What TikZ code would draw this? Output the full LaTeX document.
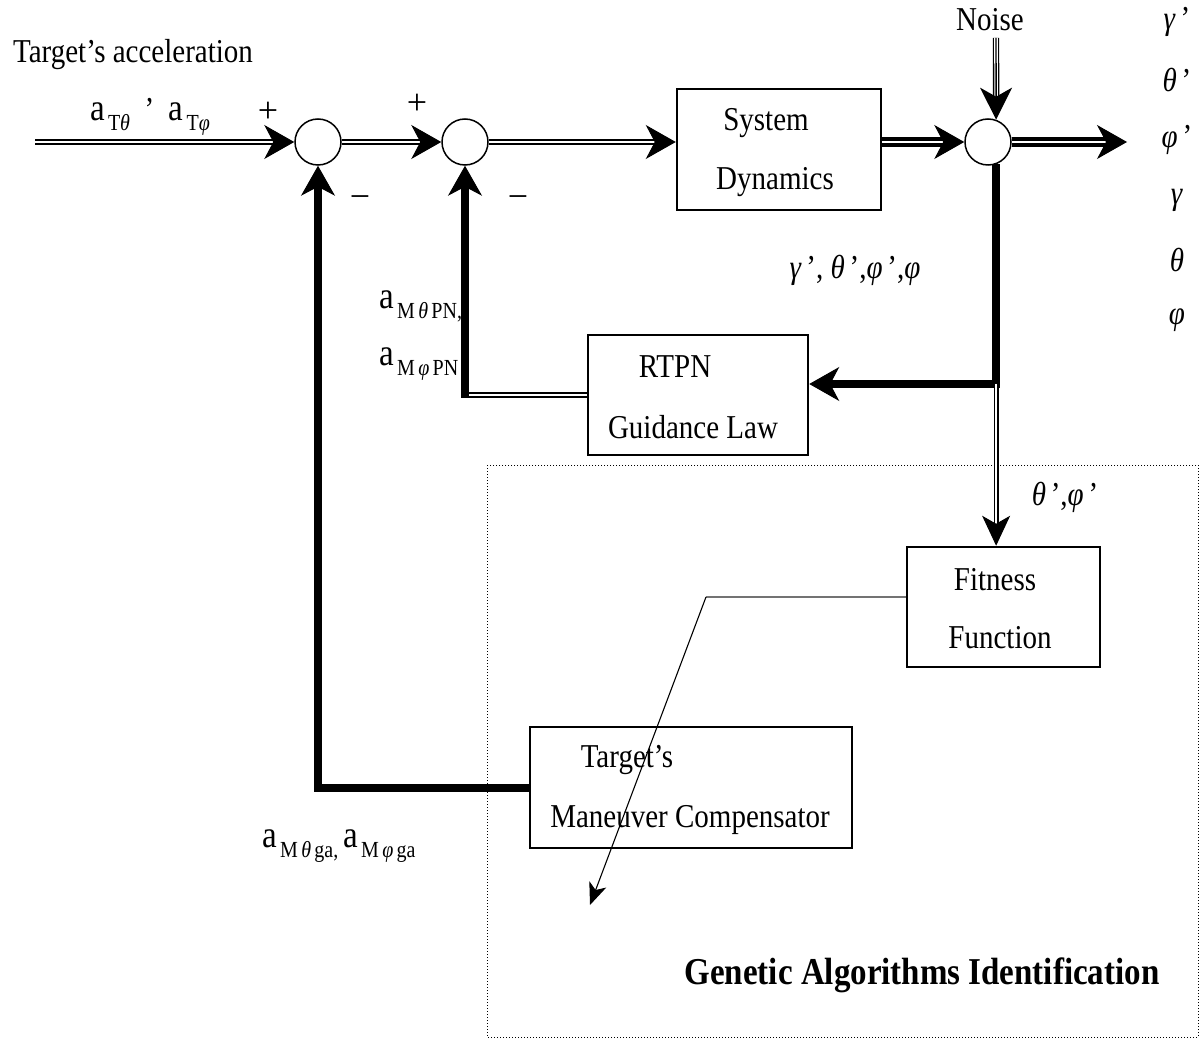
\documentclass[tikz,border=0pt]{standalone}
\usepackage{fontspec}
\usepackage{graphicx}
\setmainfont{Liberation Serif}
\usetikzlibrary{arrows.meta,calc}
\newcommand{\vs}[1]{\scalebox{1}[1.15]{#1}}
\newcommand{\subs}[1]{\raisebox{-0.3em}{\fontsize{20}{20}\selectfont #1}}
\newcommand{\bigA}{{\fontsize{33}{33}\selectfont a}}
\begin{document}
\begin{tikzpicture}[x=1pt,y=1pt,
 every node/.style={font=\fontsize{29}{34}\selectfont, inner sep=0pt},
 sumc/.style={circle,draw,line width=1.5pt,minimum size=46pt,fill=white},
 blk/.style={draw,line width=2.5pt,fill=white},
 tipline/.style={line width=1pt,-{Stealth[length=30pt,width=34pt,inset=9pt]}},
 midtip/.style={line width=1pt,-{Stealth[length=30pt,width=28pt,inset=8pt]}},
 dbl/.style={double,line width=2.2pt,double distance=2.2pt,shorten >=18pt},
 hvdbl/.style={double,line width=4.5pt,double distance=1.5pt,shorten >=18pt},
 tdbl/.style={double,line width=1.4pt,double distance=2pt,shorten >=18pt},
 hvy/.style={line width=8pt,line join=miter,shorten >=18pt},
]
\useasboundingbox (0,0) rectangle (1202,-1040);
% dotted frame
\draw[dotted,line width=1pt] (487,-465) rectangle (1198,-1037);

% blocks
\node[blk,minimum width=204pt,minimum height=121pt] (sd) at (779,-149.5) {};
\node[blk,minimum width=220pt,minimum height=120pt] (rtpn) at (698,-395) {};
\node[blk,minimum width=193pt,minimum height=120pt] (fit) at (1003.5,-607) {};
\node[blk,minimum width=322pt,minimum height=121pt] (tmc) at (691,-787.5) {};

% summing junctions
\node[sumc] (c1) at (318,-142) {};
\node[sumc] (c2) at (465,-142) {};
\node[sumc] (c3) at (988,-142) {};

% forward path
\coordinate (in) at (35,-142);
\draw[dbl] (in) -- (c1.west);
\draw[tipline] ($(c1.west)+(-3,0)$) -- (c1.west);
\draw[dbl] (c1.east) -- (c2.west);
\draw[tipline] ($(c2.west)+(-3,0)$) -- (c2.west);
\coordinate (sdin) at (c2.east -| sd.west);
\draw[dbl] (c2.east) -- (sdin);
\draw[tipline] ($(sdin)+(-3,0)$) -- (sdin);
\draw[hvdbl] (sd.east |- c3.west) -- (c3.west);
\draw[tipline] ($(c3.west)+(-3,0)$) -- (c3.west);
\coordinate (out) at (1127,-142);
\draw[hvdbl] (c3.east) -- (out);
\draw[tipline] ($(out)+(-3,0)$) -- (out);

% noise
\coordinate (nz) at (996,-38);
\draw[line width=1.4pt,double,double distance=3.6pt,shorten >=22pt] (nz) -- (c3.70);
\draw[line width=1.4pt,-{Stealth[length=32pt,width=32pt,inset=9pt]}] (nz) -- (c3.70);

% feedback to RTPN
\coordinate (jy) at (0,-384);
\coordinate (j) at (c3.-70 |- jy);
\coordinate (rin) at (j -| rtpn.east);
\draw[hvy] (c3.-70) |- (rin);
\draw[tipline] ($(rin)+(3,0)$) -- (rin);
\coordinate (fin) at (j |- fit.north);
\draw[tdbl] (j) -- (fin);
\draw[midtip] ($(fin)+(0,3)$) -- (fin);

% RTPN output to second junction
\coordinate (k) at (rtpn.west -| c2.south);
\draw[double,line width=2.2pt,double distance=2.2pt] (rtpn.west) -- (k);
\draw[hvy,shorten <=-3pt] (k) -- (c2.south);
\draw[tipline] ($(c2.south)+(0,-3)$) -- (c2.south);

% compensator output to first junction
\draw[hvy] (tmc.west) -| (c1.south);
\draw[tipline] ($(c1.south)+(0,-3)$) -- (c1.south);

% fitness to compensator (thin)
\coordinate (g1) at (706,-597);
\coordinate (g2) at (590,-905);
\draw[black!55,line width=1.4pt] (fit.west |- g1) -- (g1);
\draw[line width=1.1pt,-{Stealth[length=22pt,width=18pt,inset=6pt]}] (g1) -- (g2);

% texts
\node (tacc) at (133,-55) {\vs{Target’s acceleration}};
\node (atl) at (150,-117) {\vs{\bigA\subs{\,T\textit{θ}}\ \ ’\ \ \bigA\subs{\,T\textit{φ}}}};
\node (p1) at (268,-112) {\fontsize{36}{36}\selectfont +};
\node (p2) at (417,-104) {\fontsize{36}{36}\selectfont +};
\node (m1) at (360,-202) {\fontsize{36}{36}\selectfont −};
\node (m2) at (518,-202) {\fontsize{36}{36}\selectfont −};
\node (noise) at (990,-20) {\vs{Noise}};
\node (sdt1) at (766,-123) {\vs{System}};
\node (sdt2) at (775,-182) {\vs{Dynamics}};

\node (r1) at (1177,-22) {\vs{\textit{γ}\,’}};
\node (r2) at (1177,-80) {\vs{\textit{θ}\,’}};
\node (r3) at (1177,-140) {\vs{\textit{φ}\,’}};
\node (r4) at (1177,-200) {\vs{\textit{γ}}};
\node (r5) at (1177,-260) {\vs{\textit{θ}}};
\node (r6) at (1177,-320) {\vs{\textit{φ}}};

\node (fb) at (855,-270) {\vs{\textit{γ}\,’, \textit{θ}\,’,\textit{φ}\,’,\textit{φ}}};
\node[anchor=west] (apn1) at (379,-306) {\vs{\bigA\subs{\,M\,\textit{θ}\,PN,}}};
\node[anchor=west] (apn2) at (379,-364) {\vs{\bigA\subs{\,M\,\textit{φ}\,PN}}};
\node (rt1) at (675,-367) {\vs{RTPN}};
\node (rt2) at (693,-427) {\vs{Guidance Law}};
\node (tp) at (1065,-497) {\vs{\textit{θ}\,’,\textit{φ}\,’}};
\node (ft1) at (995,-580) {\vs{Fitness}};
\node (ft2) at (1000,-638) {\vs{Function}};
\node (tm1) at (627,-760) {\vs{Target’s}};
\node (tm2) at (690,-820) {\vs{Maneuver Compensator}};
\node[anchor=west] (aga) at (262,-846) {\vs{\bigA\subs{\,M\,\textit{θ}\,ga,}\,\bigA\subs{\,M\,\textit{φ}\,ga}}};
\node (gai) at (922,-975) {\fontsize{33}{40}\selectfont\bfseries\vs{Genetic Algorithms Identification}};
\end{tikzpicture}
\end{document}
